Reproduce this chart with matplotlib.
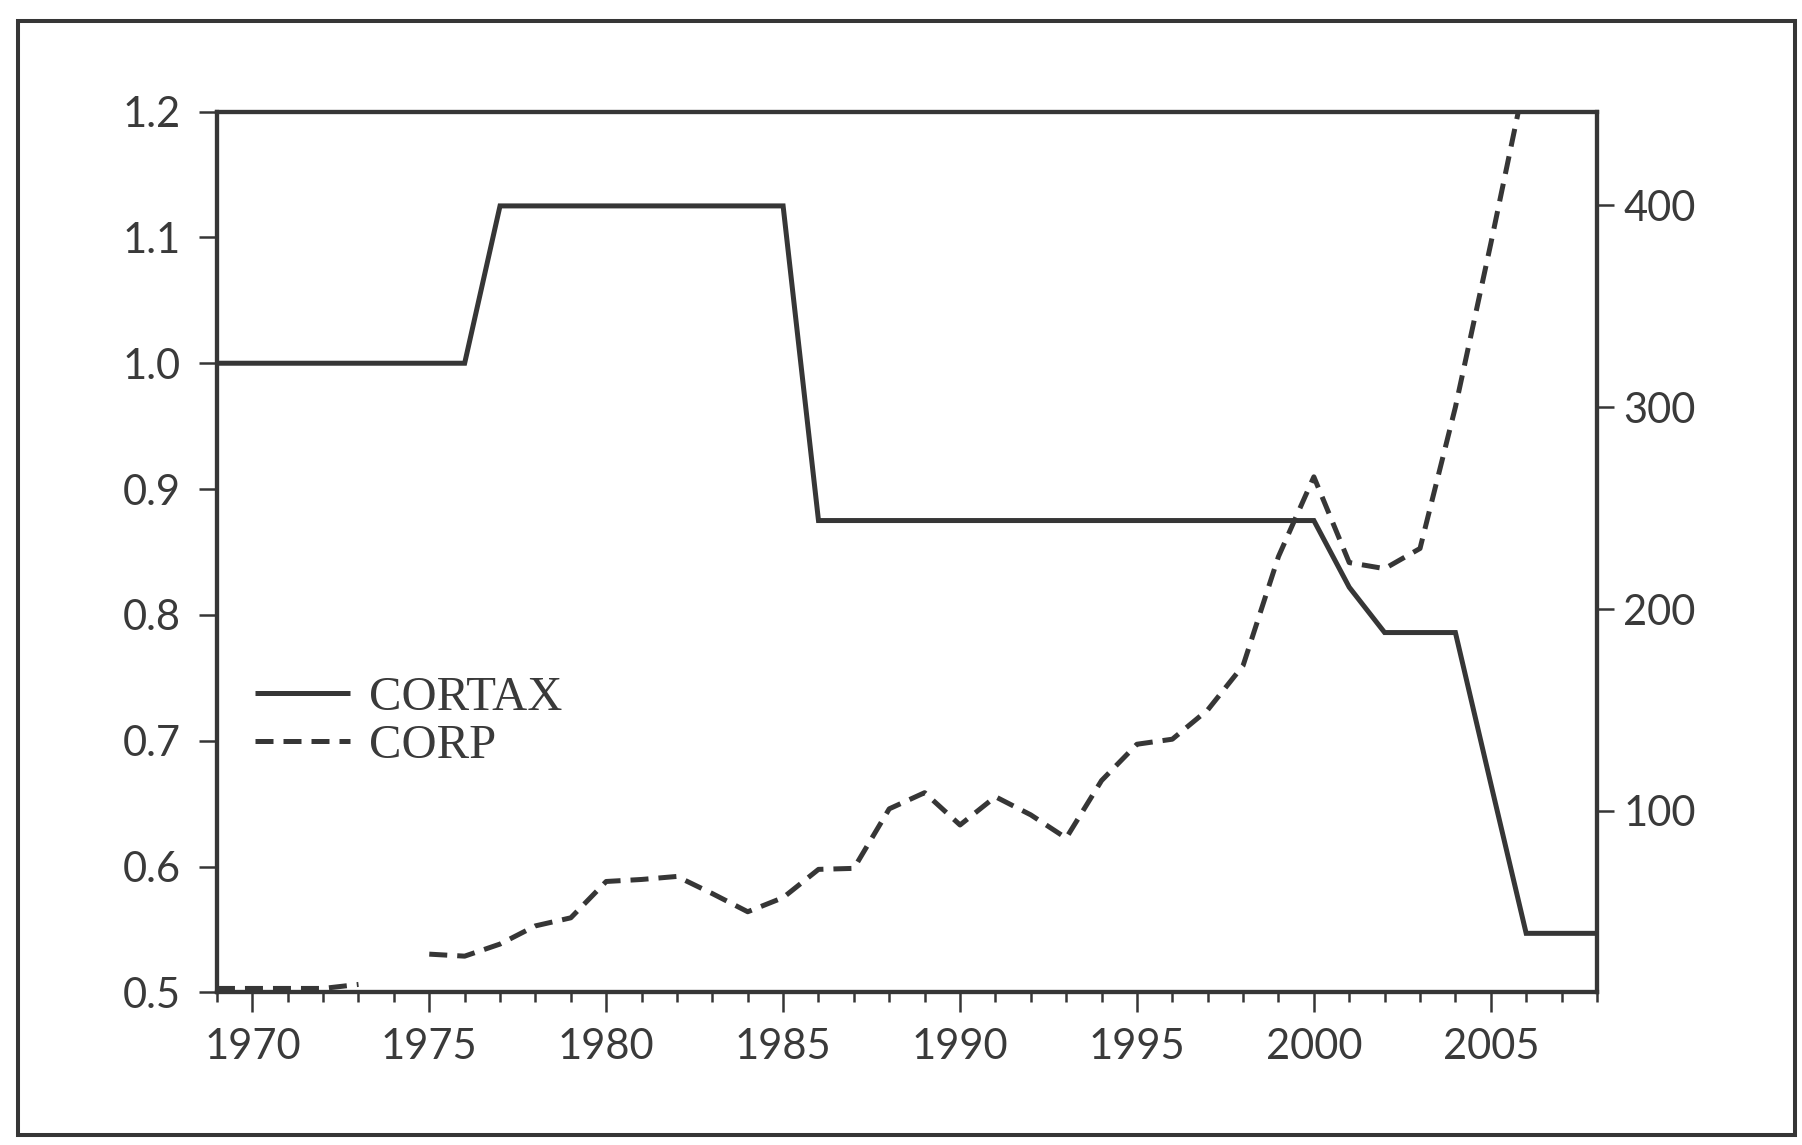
import numpy as np
import matplotlib
matplotlib.use("Agg")
import matplotlib.pyplot as plt
from matplotlib.patches import Rectangle
from matplotlib.ticker import MultipleLocator, FixedLocator, FormatStrFormatter

# ---- data ----
years = list(range(1969, 2009))
cortax = [1.0, 1.0, 1.0, 1.0, 1.0, 1.0, 1.0, 1.0,
          1.125, 1.125, 1.125, 1.125, 1.125, 1.125, 1.125, 1.125, 1.125,
          0.875, 0.875, 0.875, 0.875, 0.875, 0.875, 0.875, 0.875, 0.875,
          0.875, 0.875, 0.875, 0.875, 0.875, 0.875,
          0.822, 0.786, 0.786, 0.786, 0.666, 0.547, 0.547, 0.547]
corp = [12, 12, 12, 12, 14, np.nan,
        29, 28, 34, 43, 47, 65, 66, 67.5, 59, 50, 57,
        71, 71.5, 101, 109, 93, 107, 98, 86.5, 115, 133, 135.5,
        150, 172, 226, 265.5, 223, 220, 230, 300, 381, 465,
        np.nan, np.nan]
left_ticks = [0.5, 0.6, 0.7, 0.8, 0.9, 1.0, 1.1, 1.2]
right_ticks = [100, 200, 300, 400]
x_major = [1970, 1975, 1980, 1985, 1990, 1995, 2000, 2005]
labels = ["CORTAX", "CORP"]

INK = "#363636"
TXT = "#3a3a3a"

fig = plt.figure(figsize=(18.02, 11.45), dpi=100)
fig.patch.set_facecolor("white")

# outer page frame
fig.add_artist(Rectangle((0.010, 0.0087), 0.986, 0.973, transform=fig.transFigure,
                         fill=False, lw=2.9, ec=INK))

ax = fig.add_axes([0.1204, 0.1332, 0.7658, 0.7694])
ax2 = ax.twinx()

l1, = ax.plot(years, cortax, color=INK, lw=3.6, solid_joinstyle="miter",
              solid_capstyle="butt")
l2, = ax2.plot(years, corp, color=INK, lw=3.6, linestyle=(0, (3.6, 2.0)),
               dash_capstyle="butt")

ax.set_xlim(1969, 2008)
ax.set_ylim(0.5, 1.2)
ax2.set_ylim(10, 446.5)

for a in (ax, ax2):
    for s in a.spines.values():
        s.set_linewidth(3.0)
        s.set_color(INK)

ax.xaxis.set_major_locator(FixedLocator(x_major))
ax.xaxis.set_minor_locator(MultipleLocator(1))
ax.yaxis.set_major_locator(FixedLocator(left_ticks))
ax.yaxis.set_major_formatter(FormatStrFormatter("%.1f"))
ax2.yaxis.set_major_locator(FixedLocator(right_ticks))

ax.tick_params(axis="x", which="major", direction="out", length=14.4, width=1.8,
               color=INK, pad=11, labelcolor=TXT, top=False)
ax.tick_params(axis="x", which="minor", direction="out", length=7.2, width=1.8,
               color=INK, top=False)
ax.tick_params(axis="y", which="major", direction="out", length=13, width=1.8,
               color=INK, pad=13, labelcolor=TXT, right=False)
ax2.tick_params(axis="y", which="major", direction="out", length=12, width=1.8,
                color=INK, pad=7, labelcolor=TXT)
for lab in ax.get_xticklabels() + ax.get_yticklabels() + ax2.get_yticklabels():
    lab.set_fontfamily("Lato")
    lab.set_fontsize(30)

leg = ax2.legend([l1, l2], labels, loc="upper left",
                 bbox_to_anchor=(0.1415, 0.410), bbox_transform=fig.transFigure,
                 frameon=False, borderpad=0, borderaxespad=0, handlelength=1.95,
                 handletextpad=0.4, labelspacing=0.09,
                 prop=dict(family="Liberation Serif", size=35))
for t in leg.get_texts():
    t.set_color(TXT)

fig.savefig("out.png", dpi=100, facecolor="white")
